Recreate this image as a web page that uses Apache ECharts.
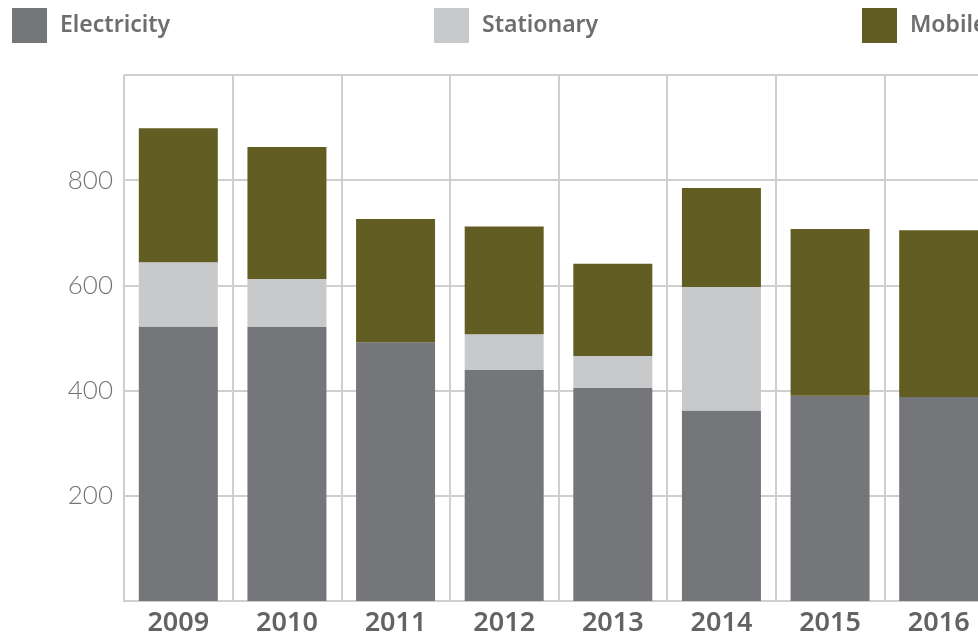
<!DOCTYPE html>
<html>
<head>
<meta charset="utf-8">
<script src="https://cdn.jsdelivr.net/npm/echarts@6/dist/echarts.min.js"></script>
<style>
  html, body { margin: 0; padding: 0; background: #fff; overflow: hidden; }
  #chart { width: 978px; height: 634px; }
</style>
</head>
<body>
<div id="chart"></div>
<script>
const years = ["2009", "2010", "2011", "2012", "2013", "2014", "2015", "2016"];
const electricity = [522, 521, 492, 439, 405, 362, 390, 388];
const stationary = [122, 91, 0, 68, 61, 235, 0, 0];
const mobile = [255, 251, 234, 205, 175, 188, 317, 317];

const colors = { Electricity: "#757679", Stationary: "#c8c9cb", Mobile: "#625d22" };
const gridColor = "#cfcfcf";

function legendAt(name, left) {
  return {
    data: [name],
    left: left,
    top: 8,
    padding: 0,
    itemWidth: 35,
    itemHeight: 35,
    icon: "rect",
    textStyle: {
      fontFamily: "Noto Sans",
      fontSize: 23,
      fontWeight: 600,
      color: "#6e6e6e",
      padding: [0, 0, 0, 8]
    }
  };
}

function series(name, data) {
  return {
    name: name,
    type: "bar",
    stack: "total",
    barWidth: 79,
    data: data,
    itemStyle: { color: colors[name] },
    emphasis: { disabled: true }
  };
}

const chart = echarts.init(document.getElementById("chart"));
chart.setOption({
  animation: false,
  legend: [legendAt("Electricity", 12), legendAt("Stationary", 434), legendAt("Mobile", 862)],
  grid: { left: 124, top: 75, width: 869, bottom: 33, containLabel: false, outerBoundsMode: "none" },
  xAxis: {
    type: "category",
    data: years,
    axisLine: { lineStyle: { color: gridColor, width: 2 } },
    axisTick: { show: false },
    splitLine: { show: true, lineStyle: { color: gridColor, width: 2 } },
    axisLabel: { fontFamily: "Noto Sans", fontSize: 27, fontWeight: 600, color: "#636363", margin: 9 }
  },
  yAxis: {
    type: "value",
    min: 0,
    max: 1000,
    interval: 200,
    axisLine: { show: false },
    axisTick: { show: false },
    splitLine: { lineStyle: { color: gridColor, width: 2 } },
    axisLabel: {
      fontFamily: "Lato",
      fontSize: 26,
      fontWeight: 300,
      color: "#747474",
      margin: 11,
      showMinLabel: false,
      showMaxLabel: false
    }
  },
  series: [
    series("Electricity", electricity),
    series("Stationary", stationary),
    series("Mobile", mobile)
  ]
});
</script>
</body>
</html>
